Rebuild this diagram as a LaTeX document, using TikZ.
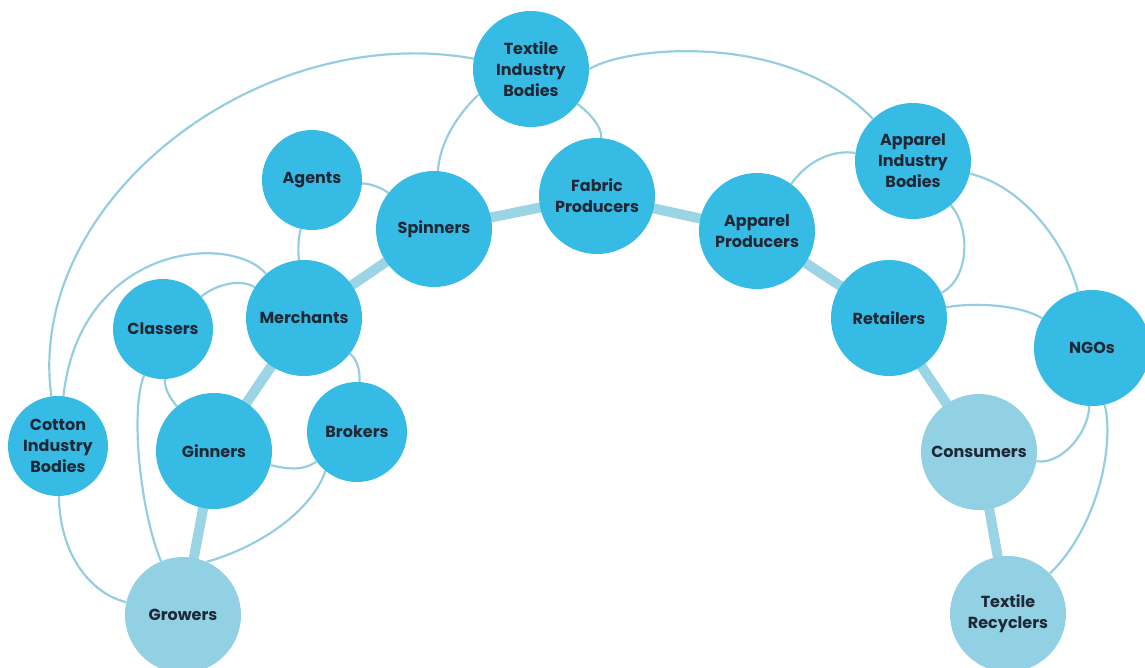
\documentclass[tikz,border=0pt]{standalone}
\usepackage{fontspec}
\setmainfont{Poppins}
\usetikzlibrary{backgrounds}
\definecolor{dk}{RGB}{54,187,228}
\definecolor{lt}{RGB}{146,208,227}
\definecolor{thickc}{RGB}{155,212,229}
\definecolor{thinc}{RGB}{150,206,224}
\definecolor{txt}{RGB}{30,40,55}
\begin{document}
\begin{tikzpicture}[x=1pt,y=-1pt,
  big/.style={circle, fill=dk, minimum size=116pt, inner sep=0pt, align=center,
    font=\fontsize{16}{21}\selectfont\bfseries, text=txt},
  small/.style={big, minimum size=100pt},
  lite/.style={big, fill=lt},
  chain/.style={line width=10pt, draw=thickc},
  link/.style={line width=2.2pt, draw=thinc}]
\useasboundingbox (0,0) rectangle (1145,668);
\clip (0,0) rectangle (1145,668);
\node[big]   (tib)    at (531,69)   {Textile\\Industry\\Bodies};
\node[small] (agents) at (312,180)  {Agents};
\node[big]   (spin)   at (434,229)  {Spinners};
\node[big]   (fab)    at (597,196)  {Fabric\\Producers};
\node[big]   (appp)   at (757,231)  {Apparel\\Producers};
\node[big]   (aib)    at (913,161)  {Apparel\\Industry\\Bodies};
\node[big]   (merch)  at (304,318)  {Merchants};
\node[small] (class)  at (163,329)  {Classers};
\node[big]   (ret)    at (889,318)  {Retailers};
\node[big]   (ngo)    at (1092,348) {NGOs};
\node[small] (cot)    at (58,446)   {Cotton\\Industry\\Bodies};
\node[big]   (gin)    at (214,451)  {Ginners};
\node[small] (brok)   at (357,432)  {Brokers};
\node[lite]  (cons)   at (979,452)  {Consumers};
\node[lite]  (grow)   at (183,615)  {Growers};
\node[lite]  (trec)   at (1008,614) {Textile\\Recyclers};
\begin{pgfonlayer}{background}
\draw[chain] (grow.center) -- (gin.center) -- (merch.center) -- (spin.center)
  -- (fab.center) -- (appp.center) -- (ret.center) -- (cons.center) -- (trec.center);
\draw[link] (tib) .. controls (260,20) and (25,200) .. (cot);
\draw[link] (merch) .. controls (230,232) and (80,245) .. (cot);
\draw[link] (class) .. controls (215,285) and (240,278) .. (merch);
\draw[link] (agents) .. controls (298,240) and (298,250) .. (merch);
\draw[link] (agents) .. controls (372,184) and (382,188) .. (spin);
\draw[link] (tib.206) .. controls (460,112) and (440,140) .. (spin);
\draw[link] (tib) .. controls (592,115) and (602,128) .. (fab);
\draw[link] (tib.east) .. controls (630,45) and (790,32) .. (aib);
\draw[link] (appp) .. controls (810,158) and (835,150) .. (aib);
\draw[link] (aib) .. controls (972,230) and (968,280) .. (ret);
\draw[link] (aib) .. controls (1020,185) and (1065,240) .. (ngo);
\draw[link] (ret) .. controls (975,302) and (1020,305) .. (ngo);
\draw[link] (ngo) .. controls (1088,435) and (1060,465) .. (cons);
\draw[link] (ngo) .. controls (1115,450) and (1095,530) .. (trec);
\draw[link] (merch) .. controls (358,360) and (360,372) .. (brok);
\draw[link] (gin) .. controls (290,470) and (305,470) .. (brok);
\draw[link] (class) .. controls (165,390) and (170,398) .. (gin);
\draw[link] (class) .. controls (130,410) and (140,510) .. (grow);
\draw[link] (cot) .. controls (60,560) and (95,595) .. (grow);
\draw[link] (brok.231) .. controls (312,510) and (262,546) .. (grow.66);
\end{pgfonlayer}
\end{tikzpicture}
\end{document}
